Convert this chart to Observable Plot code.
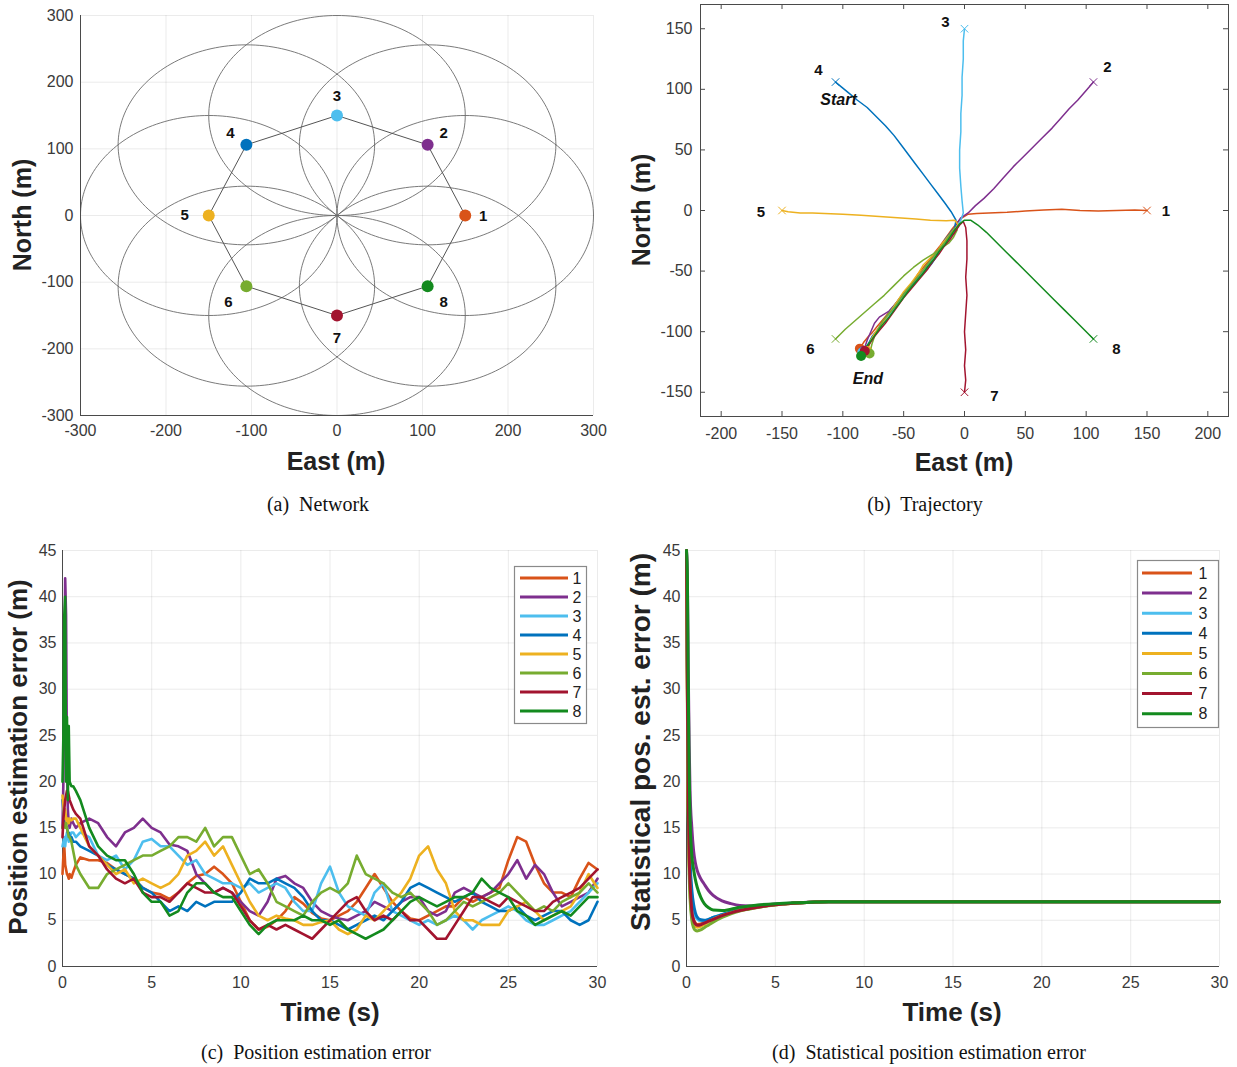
<!DOCTYPE html>
<html><head><meta charset="utf-8">
<script src="https://cdn.jsdelivr.net/npm/d3@7"></script>
<script src="https://cdn.jsdelivr.net/npm/@observablehq/plot@0.6"></script>
<style>
body{margin:0;background:#fff;}
#root{position:relative;width:1237px;height:1067px;overflow:hidden;font-family:'Liberation Sans',Arial,sans-serif;background:#fff;}
.atitle{position:absolute;font-weight:bold;font-size:25px;color:#222;white-space:nowrap;transform:translate(-50%,-50%);line-height:1;}
.ytitle{transform:translate(-50%,-50%) rotate(-90deg);}
.cap{position:absolute;font-family:'Liberation Serif','Times New Roman',serif;font-size:20px;color:#111;white-space:pre;transform:translate(-50%,-50%);line-height:1;}
</style></head><body><div id="root"></div>
<script>
// ---------------- DATA ----------------
const agentIds = [1, 2, 3, 4, 5, 6, 7, 8];
const agentColors = ["#D95319", "#7E2F8E", "#4DBEEE", "#0072BD", "#EDB120", "#77AC30", "#A2142F", "#138A1E"];

// (a) Network
const nodeEast  = [150, 106, 0, -106, -150, -106, 0, 106];
const nodeNorth = [0, 106, 150, 106, 0, -106, -150, -106];
const commRadius = 150;
const ticksA = [-300, -200, -100, 0, 100, 200, 300];

// (b) Trajectory  [east, north]
const path1 = [[150,0],[140,0.5],[125,0],[110,-0.5],[95,0],[80,1],[65,0.5],[50,-0.5],[35,-1.5],[20,-2],[10,-2.5],[3,-3],[-2,-6],[-6,-10],[-10,-15],[-15,-22],[-20,-29],[-24,-34],[-28,-40],[-33,-46],[-38,-52],[-44,-62],[-50,-68],[-56,-76],[-62,-84],[-67,-90],[-72,-96],[-76,-101],[-79,-104],[-83,-109],[-86,-114]];
const path2 = [[106,106],[100,99],[93,91],[86,84],[79,76],[72,68],[64,60],[56,52],[48,44],[40,36],[32,27],[24,18],[16,10],[9,4],[3,-2],[-3,-6],[-7,-12],[-8,-18],[-12,-22],[-18,-28],[-22,-33],[-27,-40],[-32,-47],[-37,-53],[-43,-60],[-48,-68],[-55,-75],[-62,-83],[-70,-88],[-74,-93],[-77,-100],[-80,-107],[-83,-116]];
const path3 = [[0,150],[-1,140],[-1,125],[-2,110],[-2,95],[-3,80],[-3,65],[-4,50],[-4,35],[-3,20],[-2,8],[-1,-2],[-3,-8],[-6,-13],[-10,-18],[-14,-24],[-19,-30],[-23,-36],[-28,-43],[-33,-49],[-38,-55],[-44,-63],[-50,-70],[-56,-78],[-62,-86],[-67,-93],[-71,-99],[-75,-104],[-79,-110],[-84,-117]];
const path4 = [[-106,106],[-100,101],[-94,96],[-88,91],[-80,85],[-72,77],[-65,70],[-58,62],[-52,54],[-46,46],[-40,38],[-34,30],[-28,22],[-22,14],[-16,6],[-11,-1],[-7,-8],[-8,-14],[-12,-19],[-16,-24],[-20,-32],[-23,-38],[-27,-44],[-32,-50],[-37,-55],[-42,-60],[-47,-65],[-53,-72],[-58,-79],[-63,-86],[-68,-93],[-72,-99],[-76,-104],[-79,-110],[-82,-117]];
const path5 = [[-150,0],[-145,-1],[-135,-2],[-125,-2],[-115,-2.5],[-100,-3],[-85,-4],[-70,-5],[-55,-6],[-40,-7],[-28,-8],[-15,-8.5],[-8,-8],[-5,-12],[-9,-16],[-14,-22],[-18,-27],[-22,-33],[-26,-37],[-30,-41],[-34,-45],[-38,-52],[-44,-60],[-50,-67],[-56,-76],[-60,-82],[-64,-88],[-69,-95],[-73,-100],[-77,-107],[-80,-116]];
const path6 = [[-106,-106],[-98,-98],[-90,-91],[-82,-84],[-74,-77],[-66,-70],[-58,-62],[-50,-54],[-42,-47],[-34,-41],[-26,-36],[-19,-31],[-13,-27],[-9,-22],[-6,-16],[-8,-15],[-12,-20],[-16,-26],[-21,-32],[-26,-39],[-31,-45],[-36,-52],[-41,-58],[-46,-64],[-52,-72],[-57,-79],[-62,-85],[-67,-91],[-71,-98],[-74,-104],[-76,-110],[-78,-118]];
const path7 = [[0,-150],[1,-140],[0,-128],[1,-115],[0,-100],[1,-85],[2,-70],[1,-55],[2,-40],[2,-25],[1,-14],[-1,-9],[-4,-12],[-8,-18],[-12,-24],[-17,-30],[-21,-36],[-26,-42],[-30,-48],[-35,-54],[-40,-60],[-45,-66],[-50,-72],[-55,-79],[-60,-86],[-65,-93],[-70,-99],[-74,-104],[-78,-110],[-82,-116]];
const path8 = [[106,-106],[98,-98],[90,-90],[82,-82],[74,-74],[66,-66],[58,-58],[50,-50],[42,-42],[34,-34],[26,-26],[18,-18],[11,-12],[5,-8],[0,-8],[-4,-11],[-8,-16],[-12,-22],[-16,-28],[-21,-34],[-25,-40],[-30,-46],[-35,-53],[-40,-59],[-46,-66],[-51,-73],[-57,-81],[-62,-88],[-68,-95],[-73,-102],[-78,-109],[-82,-114],[-85,-120]];
const ticksBX = [-200, -150, -100, -50, 0, 50, 100, 150, 200];
const ticksBY = [-150, -100, -50, 0, 50, 100, 150];

// (c) Position estimation error
const timeC = [0,0.05,0.1,0.15,0.2,0.25,0.3,0.35,0.4,0.5,0.6,0.75,1,
  1.5,2,2.5,3,3.5,4,4.5,5,5.5,6, 6.5,7,7.5,8,8.5,9,9.5,10,10.5,11,
  11.5,12,12.5,13,13.5,14,14.5,15,15.5,16, 16.5,17,17.5,18,18.5,19,19.5,20,20.5,21,
  21.5,22,22.5,23,23.5,24,24.5,25,25.5,26, 26.5,27,27.5,28,28.5,29,29.5,30];
const errC1 = [10,12,13,11,10.5,10,9.8,9.5,10,9.6,10.2,11,11.8,
  11.5,11.5,11.2,10.5,10,9.5,8.5,8,7.8,7.3, 8,9,9.8,10,10.8,10,9,7,5,4,
  4.3,5,6,7.5,6.8,5.8,5.2,5,5.5,6, 7,8.5,10,8.5,7,6,5.2,5,5.5,6,
  6.5,6.5,7.5,7,7.5,8,8.5,11.5,14,13.5, 11,9,8,8,7.5,9.5,11.2,10.5];
const errC2 = [15,20,30,42,38,22,17,15.5,15,16,15.5,15,15.5,
  16,15.5,14,13,14.5,15,16,15,14.5,13.2, 13,12.5,10,9,8,8.5,8,7,6,5.5,
  7,9.5,9.8,9,8.5,7,6,5.5,5.2,5, 5.5,6,7,6.5,6,7,7.5,7.5,6,5.5,
  6,8,8.5,8,7.5,8,9,10,11.5,9.5, 11,10,8,6.5,7,7.5,8,9.5];
const errC3 = [13,13.5,14,13,14,14.5,14,13.5,14,14.5,14.5,14,14.5,
  14,12,11.5,12,10.5,11.5,13.5,13.8,13,13, 12,11,11.5,10,9.5,9,9,8.5,9,8,
  8.5,9,8.5,7,6,6,9,10.8,8,6.5, 6,5.5,8,9,6,5.5,5,4.5,5,4.5,
  5,5.5,5,4,5,5.5,6,6.5,6,5, 4.5,4.5,5,5.5,6,7,8,9];
const errC4 = [18,17,16,15.5,15,15,14.5,14.5,14,14,13.5,13.5,13,
  12.5,12,11,10.5,10,9.5,8.5,8,7,6, 6.5,6,7,6.5,7,7,7,8,9.5,9,
  9,9.5,9,8.5,7.5,6,5,5,4.5,4, 4.5,5,5.5,5,6,7,8.5,9,8.5,8,
  7.5,7,7.5,8,7,6.5,6,6,6.5,5.5, 5,5.5,6,6,5,4.5,5,7];
const errC5 = [18.5,17.5,16,17,16,15.5,16,15.5,16,15.8,16,16,15,
  13,12,11,10,10.5,9,9.5,9,8.5,9, 10,12,12.5,13.5,12,13,11,9,7,5.5,
  5,5.5,5.2,5,4.5,4.5,4.8,5,4,3.5, 4,5.5,5,6,7,8,9.5,12,13,10.5,
  9,6,5,5,4.5,4.5,4.5,6,6.5,7, 6,5,5.5,6,6.5,8,10,8.5];
const errC6 = [15,15.5,15.5,15,15.5,15,14.5,14,14,13.5,12.5,11,10,
  8.5,8.5,10,10.5,11,11.5,12,12,12.5,13, 14,14,13.5,15,13,14,14,12,10,10.5,
  9,7,6.5,6,5.5,7,8,8.5,8,9, 12,10,9.5,9,8,7.5,8,7,6,4.5,
  5,6,7,6.5,7,7.5,8,9,8,7, 6,6.5,6,7,7.5,8,9,8];
const errC7 = [14,16,17,18,18.5,19,19,18.5,18,17.5,17,16.5,16,
  13,12,10.5,9.5,9,9.5,8,7.5,7.5,7, 8,9,8.5,8,8,8.5,8,6.5,5,4,
  4.5,4,4.5,4,3.5,3,4,5,6,7, 7.5,6,5,5.5,5,6,5,5,4,3,
  3,4.5,6,7.5,7.5,7,6.5,7.5,7,6.5, 6,6,7,7.5,8,8.5,9.5,10.5];
const errC8 = [20,25,38,40,20,27,18,26,20,19.5,19.5,19,18,
  15,13,12,11.5,11.5,10,8,7,7,5.5, 6,8,9,9,8,7.5,7.5,6,4.5,3.5,
  4.5,5,5,5,5.5,5,5,4.5,5,4, 3.5,3,3.5,4,5,6,7,7.5,7,6.5,
  7,7.5,7.5,8,9.5,8.5,8,7.5,6,5.5, 4.5,5,5.5,6,5.5,6.5,7.5,7.5];

// (d) Statistical position estimation error
const timeD = [0,0.05,0.1,0.15,0.2,0.3,0.4,0.5,0.6,0.8,1,1.25,1.5,2,2.5,3,3.5,4,5,6,7,8,10,15,20,25,30];
const statD1 = [45,30,18,12,9,6.2,5.1,4.7,4.55,4.6,4.8,5.0,5.2,5.55,5.85,6.1,6.3,6.45,6.7,6.85,6.95,7,7,7,7,7,7];
const statD2 = [45,42,32,24,19,15,12.5,11.2,10.4,9.5,8.9,8.2,7.7,7.1,6.8,6.6,6.55,6.6,6.75,6.88,6.95,7,7,7,7,7,7];
const statD3 = [45,32,20,14,10.5,7.5,6.1,5.45,5.15,4.95,4.95,5.1,5.3,5.6,5.9,6.1,6.3,6.45,6.7,6.85,6.95,7,7,7,7,7,7];
const statD4 = [45,33,21,15,11.5,8.3,6.7,5.8,5.35,5.05,5.0,5.1,5.3,5.6,5.9,6.1,6.3,6.45,6.7,6.85,6.95,7,7,7,7,7,7];
const statD5 = [45,30,17,11,8,5.6,4.7,4.35,4.25,4.35,4.55,4.85,5.1,5.5,5.8,6.05,6.25,6.42,6.68,6.84,6.95,7,7,7,7,7,7];
const statD6 = [45,28,16,10,7.4,5,4.2,3.92,3.85,3.95,4.2,4.5,4.8,5.3,5.7,6.0,6.2,6.38,6.66,6.83,6.94,7,7,7,7,7,7];
const statD7 = [45,30,18,12,9,6,5,4.6,4.45,4.5,4.7,4.9,5.1,5.5,5.8,6.05,6.25,6.42,6.68,6.84,6.95,7,7,7,7,7,7];
const statD8 = [45,42,30,21,16,12,10.5,9.4,8.6,7.5,6.8,6.35,6.1,6.05,6.2,6.4,6.55,6.65,6.8,6.9,6.96,7,7,7,7,7,7];
const ticksTime = [0, 5, 10, 15, 20, 25, 30];
const ticksErr = [0, 5, 10, 15, 20, 25, 30, 35, 40, 45];

// ---------------- STYLE ----------------
const FONT = "'Liberation Sans', Arial, Helvetica, sans-serif";
const AXIS = "#4a4a4a";
const baseStyle = {fontFamily: FONT, fontSize: "16px", color: "#3a3a3a", background: "transparent", overflow: "visible"};
const root = document.getElementById("root");
function put(el, left, top) {
  const d = document.createElement("div");
  d.style.position = "absolute"; d.style.left = left + "px"; d.style.top = top + "px";
  d.appendChild(el); root.appendChild(d);
}
function addText(cls, txt, x, y, size) {
  const d = document.createElement("div");
  d.className = cls; d.textContent = txt;
  d.style.left = x + "px"; d.style.top = y + "px";
  if (size) d.style.fontSize = size + "px";
  root.appendChild(d);
}
const fmt = d => String(d);

// ---------------- (a) ----------------
const nodes = agentIds.map((id, i) => ({id, east: nodeEast[i], north: nodeNorth[i], color: agentColors[i]}));
const ring = [...nodes, nodes[0]];
const circlePts = [];
nodes.forEach(n => {
  for (let a = 0; a <= 360; a += 2) {
    const r = a * Math.PI / 180;
    circlePts.push({id: n.id, east: n.east + commRadius * Math.cos(r), north: n.north + commRadius * Math.sin(r)});
  }
});
const nudgeA = [[18,1],[16,-12],[0,-19],[-16,-12],[-24,0],[-18,16],[0,23],[16,16]];
const chartA = Plot.plot({
  width: 620, height: 445, marginLeft: 80, marginRight: 27, marginTop: 15, marginBottom: 30,
  style: baseStyle,
  x: {domain: [-300, 300], ticks: ticksA, tickFormat: fmt, tickSize: 0, tickPadding: 9, grid: true, label: null},
  y: {domain: [-300, 300], ticks: ticksA, tickFormat: fmt, tickSize: 0, tickPadding: 7, grid: true, label: null},
  color: {type: "identity"},
  marks: [
    Plot.line(circlePts, {x: "east", y: "north", z: "id", stroke: "#6b6b6b", strokeWidth: 0.9}),
    Plot.line(ring, {x: "east", y: "north", stroke: "#555", strokeWidth: 1}),
    Plot.ruleX([-300], {stroke: AXIS}),
    Plot.ruleY([-300], {stroke: AXIS}),
    Plot.dot(nodes, {x: "east", y: "north", r: 6, fill: "color", stroke: "none"}),
    ...nodes.map((n, i) => Plot.text([n], {x: "east", y: "north", text: d => String(d.id), dx: nudgeA[i][0], dy: nudgeA[i][1], fontWeight: "bold", fontSize: 15, fill: "#111"}))
  ]
});
put(chartA, 0, 0);
addText("atitle", "East (m)", 336, 461);
addText("atitle ytitle", "North (m)", 22, 215);
addText("cap", "(a)  Network", 318, 504);

// ---------------- (b) ----------------
const paths = [path1, path2, path3, path4, path5, path6, path7, path8];
const trajRows = [];
paths.forEach((p, i) => p.forEach(([e, n]) => trajRows.push({id: agentIds[i], east: e, north: n, color: agentColors[i]})));
const starts = paths.map((p, i) => ({id: agentIds[i], east: p[0][0], north: p[0][1], color: agentColors[i]}));
const ends = paths.map((p, i) => ({id: agentIds[i], east: p[p.length - 1][0], north: p[p.length - 1][1], color: agentColors[i]}));
const nudgeB = [[19,1],[14,-15],[-19,-7],[-17,-12],[-21,2],[-25,10],[30,4],[23,10]];
const bH = 445, bMT = 4, bMB = 29, bW = 617, bML = 80, bMR = 9;
const innerH = bH - bMT - bMB, innerW = bW - bML - bMR;
const chartB = Plot.plot({
  width: bW, height: bH, marginLeft: bML, marginRight: bMR, marginTop: bMT, marginBottom: bMB,
  style: baseStyle,
  x: {domain: [-217, 217], ticks: ticksBX, tickFormat: fmt, tickSize: 0, tickPadding: 11, label: null},
  y: {domain: [-170, 170], ticks: ticksBY, tickFormat: fmt, tickSize: 0, tickPadding: 8, label: null},
  color: {type: "identity"},
  marks: [
    Plot.frame({stroke: AXIS}),
    Plot.tickX(ticksBX, {x: d => d, insetTop: innerH - 5, stroke: AXIS}),
    Plot.tickX(ticksBX, {x: d => d, insetBottom: innerH - 5, stroke: AXIS}),
    Plot.tickY(ticksBY, {y: d => d, insetRight: innerW - 5, stroke: AXIS}),
    Plot.tickY(ticksBY, {y: d => d, insetLeft: innerW - 5, stroke: AXIS}),
    Plot.line(trajRows, {x: "east", y: "north", z: "id", stroke: "color", strokeWidth: 1.5}),
    Plot.dot(starts, {x: "east", y: "north", symbol: "times", r: 3.5, stroke: "color", strokeWidth: 1}),
    Plot.dot(ends, {x: "east", y: "north", r: 5, fill: "color", stroke: "none"}),
    ...starts.map((s, i) => Plot.text([s], {x: "east", y: "north", text: d => String(d.id), dx: nudgeB[i][0], dy: nudgeB[i][1], fontWeight: "bold", fontSize: 15, fill: "#111"})),
    Plot.text([starts[3]], {x: "east", y: "north", text: () => "Start", dx: 3, dy: 18, fontWeight: "bold", fontStyle: "italic", fontSize: 16, fill: "#111"}),
    Plot.text([ends[0]], {x: "east", y: "north", text: () => "End", dx: 8, dy: 30, fontWeight: "bold", fontStyle: "italic", fontSize: 16, fill: "#111"})
  ]
});
put(chartB, 620, 0);
addText("atitle", "East (m)", 964, 462);
addText("atitle ytitle", "North (m)", 641, 210);
addText("cap", "(b)  Trajectory", 925, 504);

// ---------------- (c) ----------------
const errSeries = [errC1, errC2, errC3, errC4, errC5, errC6, errC7, errC8];
const errRows = [];
errSeries.forEach((s, i) => s.forEach((v, k) => errRows.push({id: agentIds[i], t: timeC[k], v, color: agentColors[i]})));
const chartC = Plot.plot({
  width: 620, height: 450, marginLeft: 62, marginRight: 23, marginTop: 10, marginBottom: 24,
  style: baseStyle,
  x: {domain: [0, 30], ticks: ticksTime, tickFormat: fmt, tickSize: 0, tickPadding: 10, grid: true, label: null},
  y: {domain: [0, 45], ticks: ticksErr, tickFormat: fmt, tickSize: 0, tickPadding: 6, grid: true, label: null},
  color: {type: "identity"},
  marks: [
    Plot.ruleX([0], {stroke: AXIS}),
    Plot.ruleY([0], {stroke: AXIS}),
    Plot.line(errRows, {x: "t", y: "v", z: "id", stroke: "color", strokeWidth: 2.6, strokeLinejoin: "round"})
  ]
});
put(chartC, 0, 540);
addText("atitle", "Time (s)", 330, 1012, 26);
addText("atitle ytitle", "Position estimation error (m)", 18, 757, 26);
addText("cap", "(c)  Position estimation error", 316, 1052);

// ---------------- (d) ----------------
const statSeries = [statD1, statD2, statD3, statD4, statD5, statD6, statD7, statD8];
const statRows = [];
statSeries.forEach((s, i) => s.forEach((v, k) => statRows.push({id: agentIds[i], t: timeD[k], v, color: agentColors[i]})));
const chartD = Plot.plot({
  width: 617, height: 450, marginLeft: 66, marginRight: 18, marginTop: 10, marginBottom: 24,
  style: baseStyle,
  x: {domain: [0, 30], ticks: ticksTime, tickFormat: fmt, tickSize: 0, tickPadding: 10, grid: true, label: null},
  y: {domain: [0, 45], ticks: ticksErr, tickFormat: fmt, tickSize: 0, tickPadding: 6, grid: true, label: null},
  color: {type: "identity"},
  marks: [
    Plot.ruleX([0], {stroke: AXIS}),
    Plot.ruleY([0], {stroke: AXIS}),
    Plot.line(statRows, {x: "t", y: "v", z: "id", stroke: "color", strokeWidth: 3, curve: "monotone-x"})
  ]
});
put(chartD, 620, 540);
addText("atitle", "Time (s)", 952, 1012, 26);
addText("atitle ytitle", "Statistical pos. est. error (m)", 641, 742, 28);
addText("cap", "(d)  Statistical position estimation error", 929, 1052);

// ---------------- legends ----------------
function legend(left, top, w, h, y0, step, x1, x2, xt) {
  const svg = d3.create("svg").attr("width", w + 2).attr("height", h + 2)
    .style("position", "absolute").style("left", left + "px").style("top", top + "px").style("overflow", "visible");
  svg.append("rect").attr("x", 0.5).attr("y", 0.5).attr("width", w).attr("height", h)
    .attr("fill", "#fff").attr("stroke", "#8a8a8a").attr("stroke-width", 1.2);
  agentIds.forEach((id, i) => {
    const y = y0 + step * i;
    svg.append("line").attr("x1", x1).attr("x2", x2).attr("y1", y).attr("y2", y)
      .attr("stroke", agentColors[i]).attr("stroke-width", 3);
    svg.append("text").attr("x", xt).attr("y", y).attr("dy", "0.36em").attr("text-anchor", "middle")
      .attr("font-family", FONT).attr("font-size", 16).attr("fill", "#222").text(String(id));
  });
  root.appendChild(svg.node());
}
legend(514, 566, 72, 157, 12, 19, 6, 54, 63);
legend(1137, 560, 81, 167, 13, 20.1, 5, 55, 66);
</script>
</body></html>
